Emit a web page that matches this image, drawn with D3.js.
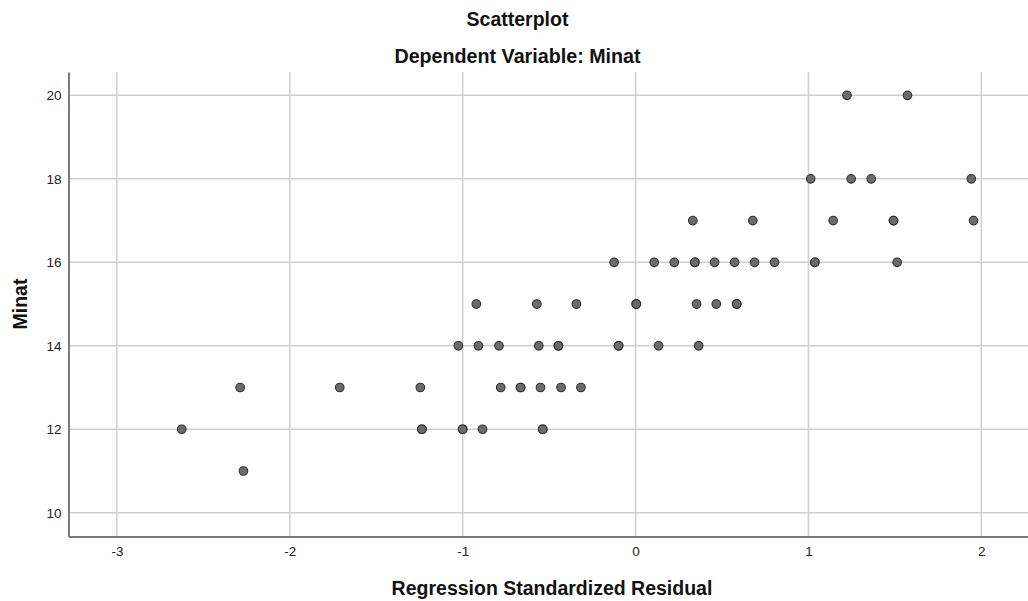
<!DOCTYPE html>
<html><head><meta charset="utf-8">
<script src="https://cdn.jsdelivr.net/npm/d3@7"></script>
<style>body{margin:0;background:#fff;} svg{display:block;font-family:Arial,"Liberation Sans",sans-serif;}</style>
</head><body><svg id="c" width="1028" height="601"></svg>
<script>
const residuals = [1.223,1.573,
  1.013,1.247,1.363,1.942,
  0.331,0.678,1.143,1.492,1.492,1.955,
  -0.124,0.108,0.224,0.343,0.343,0.457,0.573,0.688,0.804,1.037,1.037,1.513,
  -0.921,-0.571,-0.342,0.004,0.004,0.353,0.467,0.585,0.585,
  -1.025,-0.909,-0.79,-0.56,-0.446,-0.446,-0.098,-0.098,0.133,0.365,
  -2.287,-1.711,-1.245,-0.78,-0.665,-0.665,-0.55,-0.431,-0.316,
  -2.625,-1.236,-1.236,-1.0,-1.0,-0.885,-0.537,-0.537,
  -2.268];
const minat = [20,20,
  18,18,18,18,
  17,17,17,17,17,17,
  16,16,16,16,16,16,16,16,16,16,16,16,
  15,15,15,15,15,15,15,15,15,
  14,14,14,14,14,14,14,14,14,14,
  13,13,13,13,13,13,13,13,13,
  12,12,12,12,12,12,12,12,
  11];
const xTicks = [-3,-2,-1,0,1,2];
const yTicks = [10,12,14,16,18,20];
const titleText = "Scatterplot";
const subtitleText = "Dependent Variable: Minat";
const xLabel = "Regression Standardized Residual";
const yLabel = "Minat";

const svg = d3.select("#c");
const pL = 68.5, pR = 1028, pT = 72, pB = 536.5;
const x = d3.scaleLinear().domain([-3.28, 2.27]).range([pL, pR]);
const y = d3.scaleLinear().domain([9.43, 20.56]).range([pB, pT]);
const fmt = d => String(d);

// gridlines
svg.append("g").selectAll("line").data(xTicks).join("line")
  .attr("x1", d => x(d)).attr("x2", d => x(d)).attr("y1", pT).attr("y2", pB)
  .attr("stroke", "#cfcfcf").attr("stroke-width", 1.5);
svg.append("g").selectAll("line").data(yTicks).join("line")
  .attr("x1", pL).attr("x2", pR).attr("y1", d => y(d)).attr("y2", d => y(d))
  .attr("stroke", "#cfcfcf").attr("stroke-width", 1.5);

// axes
const xAxis = svg.append("g").attr("transform", `translate(0,${pB})`)
  .call(d3.axisBottom(x).tickValues(xTicks).tickSize(0).tickPadding(10).tickFormat(fmt));
const yAxis = svg.append("g").attr("transform", `translate(${pL},0)`)
  .call(d3.axisLeft(y).tickValues(yTicks).tickSize(0).tickPadding(7).tickFormat(fmt));
[xAxis, yAxis].forEach(a => {
  a.select(".domain").attr("stroke", "#7a7a7a").attr("stroke-width", 2);
  a.selectAll("text").attr("font-size", 13.5).attr("fill", "#222").attr("font-family", "Arial, 'Liberation Sans', sans-serif");
});

// points
svg.append("g").selectAll("circle").data(residuals.map((r, i) => [r, minat[i]])).join("circle")
  .attr("cx", d => x(d[0])).attr("cy", d => y(d[1])).attr("r", 4.3)
  .attr("fill", "#6b6b6b").attr("stroke", "#2e2e2e").attr("stroke-width", 1.1);

// titles
svg.append("text").attr("x", 517.5).attr("y", 26).attr("text-anchor", "middle")
  .attr("font-size", 19.5).attr("font-weight", "bold").attr("fill", "#111").text(titleText);
svg.append("text").attr("x", 517.5).attr("y", 62.5).attr("text-anchor", "middle")
  .attr("font-size", 19.7).attr("font-weight", "bold").attr("fill", "#111").text(subtitleText);
svg.append("text").attr("x", 552).attr("y", 595).attr("text-anchor", "middle")
  .attr("font-size", 19.5).attr("font-weight", "bold").attr("fill", "#111").text(xLabel);
svg.append("text").attr("transform", "translate(27,304) rotate(-90)").attr("text-anchor", "middle")
  .attr("font-size", 19.5).attr("font-weight", "bold").attr("fill", "#111").text(yLabel);
</script></body></html>
